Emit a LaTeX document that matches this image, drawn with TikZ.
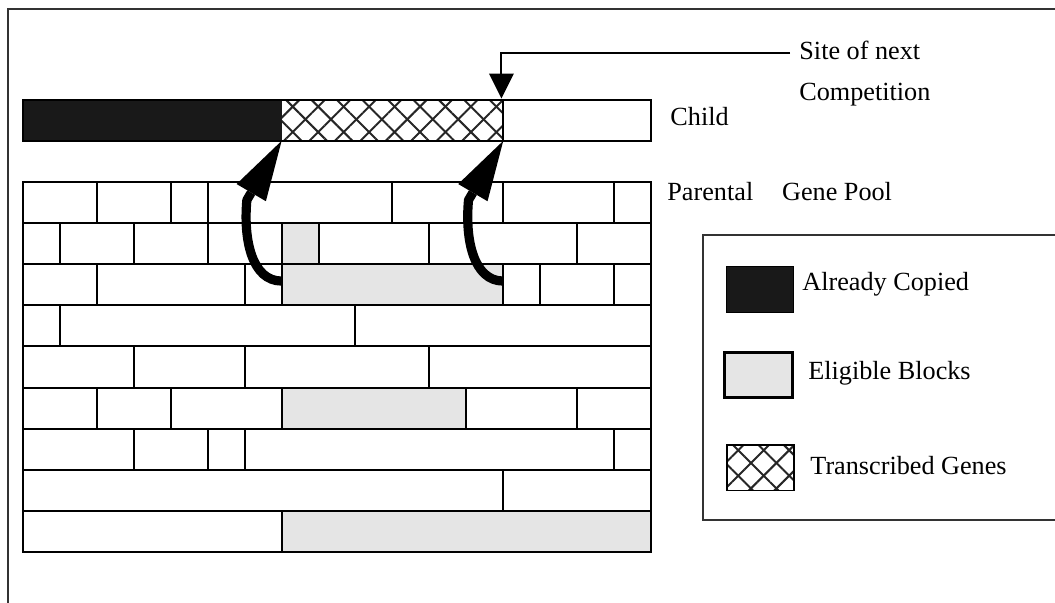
\documentclass[tikz,border=0pt]{standalone}
\usepackage{fontspec}
\setmainfont{Liberation Serif}
\usetikzlibrary{arrows.meta,patterns.meta}

\tikzset{
	lbl/.style={anchor=base west, inner sep=0pt, font=\fontsize{13.1}{15.7}\selectfont},
	frame/.style={line width=0.6pt, black!80},
	brick/.style={line width=1pt},
	copied/.style={fill=black!90},
	eligible/.style={fill=black!10},
	transcribed/.style={pattern={Lines[angle=45,distance=9pt,line width=1pt]}, pattern color=black!85,
		postaction={pattern={Lines[angle=-45,distance=9pt,line width=1pt]}, pattern color=black!85}},
	copyarrow/.style={line width=4.6pt, line join=round, -{Triangle[length=30pt,width=17pt,line width=0pt]}},
	sitearrow/.style={line width=1pt, -{Triangle[length=12.5pt,width=12.5pt,line width=0pt]}}
}

\begin{document}
\begin{tikzpicture}[x=18.47pt, y=-20.555pt]
	\useasboundingbox (-0.623,-4.427) rectangle (27.937,10.241);
	\draw[frame] (-0.406,10.241) -- (-0.406,-4.208) -- (27.937,-4.208);

	% child
	\fill[copied] (0,-2) rectangle (7,-1);
	\fill[transcribed] (7,-2) rectangle (13,-1);
	\draw[brick] (0,-2) rectangle (17,-1) (13,-2) -- (13,-1);
	\node[lbl] (child) at (17.515,-1.362) {Child};

	% parental gene pool
	\fill[eligible] (7,1) rectangle (8,2);
	\fill[eligible] (7,2) rectangle (13,3);
	\fill[eligible] (7,5) rectangle (12,6);
	\fill[eligible] (7,8) rectangle (17,9);
	\draw[brick] (0,1) -- (17,1) (0,2) -- (17,2) (0,3) -- (17,3) (0,4) -- (17,4)
		(0,5) -- (17,5) (0,6) -- (17,6) (0,7) -- (17,7) (0,8) -- (17,8);
	\draw[brick] (2,0) -- ++(0,1) (4,0) -- ++(0,1) (5,0) -- ++(0,1) (10,0) -- ++(0,1) (13,0) -- ++(0,1) (16,0) -- ++(0,1);
	\draw[brick] (1,1) -- ++(0,1) (3,1) -- ++(0,1) (5,1) -- ++(0,1) (7,1) -- ++(0,1) (8,1) -- ++(0,1) (11,1) -- ++(0,1) (15,1) -- ++(0,1);
	\draw[brick] (2,2) -- ++(0,1) (6,2) -- ++(0,1) (7,2) -- ++(0,1) (13,2) -- ++(0,1) (14,2) -- ++(0,1) (16,2) -- ++(0,1);
	\draw[brick] (1,3) -- ++(0,1) (9,3) -- ++(0,1);
	\draw[brick] (3,4) -- ++(0,1) (6,4) -- ++(0,1) (11,4) -- ++(0,1);
	\draw[brick] (2,5) -- ++(0,1) (4,5) -- ++(0,1) (7,5) -- ++(0,1) (12,5) -- ++(0,1) (15,5) -- ++(0,1);
	\draw[brick] (3,6) -- ++(0,1) (5,6) -- ++(0,1) (6,6) -- ++(0,1) (16,6) -- ++(0,1);
	\draw[brick] (13,7) -- ++(0,1);
	\draw[brick] (7,8) -- ++(0,1);
	\draw[brick, line width=1.3pt] (0,0) rectangle (17,9);
	\node[lbl] (pool) at (17.434,0.462) {Parental\hspace{1.1em}Gene Pool};

	% copying arrows
	\coordinate (tailA) at (7,2.41);
	\coordinate (tipA) at (7,-1);
	\coordinate (tailB) at (13,2.41);
	\coordinate (tipB) at (13,-1);
	\draw[copyarrow] (tailA) .. controls (6.2,2.41) and (5.96,1.41) .. (6.06,0.44) -- (tipA);
	\draw[copyarrow] (tailB) .. controls (12.2,2.41) and (11.96,1.41) .. (12.06,0.44) -- (tipB);

	% next competition
	\node[lbl] (site) at (21.007,-2.968) {Site of next};
	\node[lbl] (competition) at (21.007,-1.970) {Competition};
	\coordinate (nextsite) at (12.95,-2.03);
	\draw[sitearrow] ([xshift=-4.5pt,yshift=-1pt]site.west) -| (nextsite);

	% legend
	\draw[frame] (27.937,1.289) -- (18.408,1.289) -- (18.408,8.222) -- (27.937,8.222);
	\filldraw[copied, line width=0.5pt] (19.056,2.067) rectangle (20.871,3.175);
	\filldraw[eligible, line width=1.4pt] (18.985,4.143) rectangle (20.836,5.237);
	\fill[transcribed] (19.05,6.397) rectangle (20.87,7.509);
	\draw[line width=0.8pt] (19.05,6.397) rectangle (20.87,7.509);
	\node[lbl] (copiedlbl) at (21.088,2.651) {Already Copied};
	\node[lbl] (eligiblelbl) at (21.25,4.816) {Eligible Blocks};
	\node[lbl] (transcribedlbl) at (21.305,7.127) {Transcribed Genes};
\end{tikzpicture}
\end{document}
